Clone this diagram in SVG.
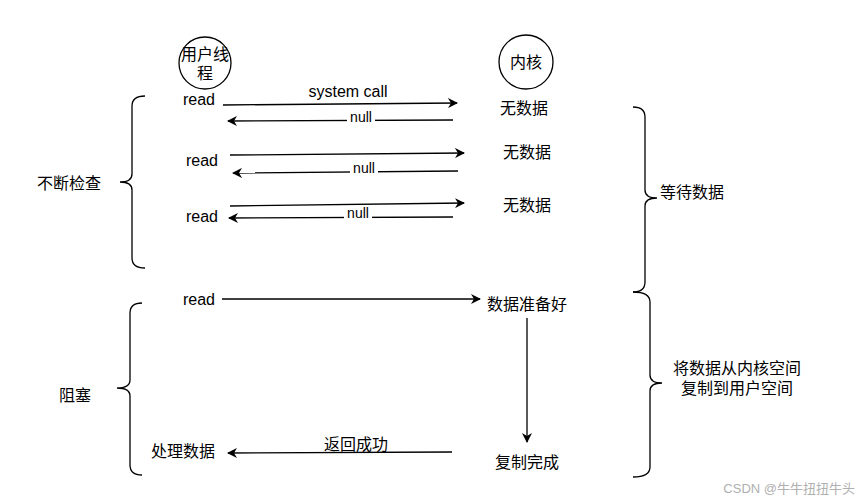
<svg xmlns="http://www.w3.org/2000/svg" width="863" height="500" viewBox="0 0 863 500">
<style>
text{font-family:"Liberation Sans","Noto Sans CJK SC",sans-serif;font-size:16px;fill:#000}
.c{text-anchor:middle}
.n{font-size:14px}
.wm{font-size:13px;fill:#b0b0b0;text-anchor:end}
.ln{stroke:#000;stroke-width:1.3;fill:none}
.br{stroke:#000;stroke-width:1.3;fill:none}
.lb{fill:#fff}
</style>
<defs>
<marker id="a" viewBox="0 0 10 10" refX="9" refY="5" markerWidth="10" markerHeight="10" markerUnits="userSpaceOnUse" orient="auto">
<path d="M0,0 L10,5 L0,10 L3,5 Z" fill="#000"/>
</marker>
</defs>
<rect width="863" height="500" fill="#fff"/>
<g id="user-thread">
<circle cx="205" cy="63" r="26" class="ln"/>
<text x="205" y="60" class="c">用户线</text>
<text x="205" y="79" class="c">程</text>
</g>
<g id="kernel">
<circle cx="526" cy="62" r="27" class="ln"/>
<text x="526" y="68" class="c">内核</text>
</g>
<g id="labels">
<text x="199" y="105" class="c">read</text>
<text x="202" y="166" class="c">read</text>
<text x="202" y="222" class="c">read</text>
<text x="199" y="305" class="c">read</text>
<text x="524" y="114" class="c">无数据</text>
<text x="527" y="158" class="c">无数据</text>
<text x="527" y="211" class="c">无数据</text>
<text x="527" y="310" class="c">数据准备好</text>
<text x="527" y="468" class="c">复制完成</text>
<text x="183" y="457" class="c">处理数据</text>
<text x="69" y="189" class="c">不断检查</text>
<text x="75" y="401" class="c">阻塞</text>
<text x="660" y="198">等待数据</text>
<text x="737" y="374" class="c">将数据从内核空间</text>
<text x="737" y="394" class="c">复制到用户空间</text>
</g>
<g id="connectors">
<line x1="223" y1="105" x2="457" y2="103" class="ln" marker-end="url(#a)"/>
<text x="348" y="97" class="c">system call</text>
<line x1="453" y1="120" x2="228" y2="121" class="ln" marker-end="url(#a)"/>
<rect x="347" y="112" width="28" height="12" class="lb"/>
<text x="361" y="122" class="c n">null</text>
<line x1="230" y1="155" x2="464" y2="153" class="ln" marker-end="url(#a)"/>
<line x1="458" y1="171" x2="233" y2="173" class="ln" marker-end="url(#a)"/>
<rect x="350" y="163" width="28" height="12" class="lb"/>
<text x="364" y="173" class="c n">null</text>
<line x1="230" y1="206" x2="464" y2="203" class="ln" marker-end="url(#a)"/>
<line x1="453" y1="217" x2="229" y2="218" class="ln" marker-end="url(#a)"/>
<rect x="344" y="208" width="28" height="12" class="lb"/>
<text x="358" y="218" class="c n">null</text>
<line x1="222" y1="299" x2="480" y2="299" class="ln" marker-end="url(#a)"/>
<line x1="527" y1="318" x2="527" y2="442" class="ln" marker-end="url(#a)"/>
<line x1="452" y1="452" x2="228" y2="453" class="ln" marker-end="url(#a)"/>
<text x="356" y="450" class="c">返回成功</text>
</g>
<g id="braces">
<path class="br" d="M145,96 Q132,96 132,106 L132,174 Q132,182 120,182 Q132,182 132,190 L132,258 Q132,268 145,268"/>
<path class="br" d="M142,303 Q130,303 130,313 L130,380 Q130,388 117,388 Q130,388 130,396 L130,465 Q130,475 142,475"/>
<path class="br" d="M633,107 Q645,107 645,117 L645,190 Q645,198 657,198 Q645,198 645,206 L645,282 Q645,292 633,292"/>
<path class="br" d="M633,292 Q650,292 650,302 L650,375 Q650,383 662,383 Q650,383 650,391 L650,467 Q650,477 633,477"/>
</g>
<text x="855" y="493" class="wm">CSDN @牛牛扭扭牛头</text>
</svg>
